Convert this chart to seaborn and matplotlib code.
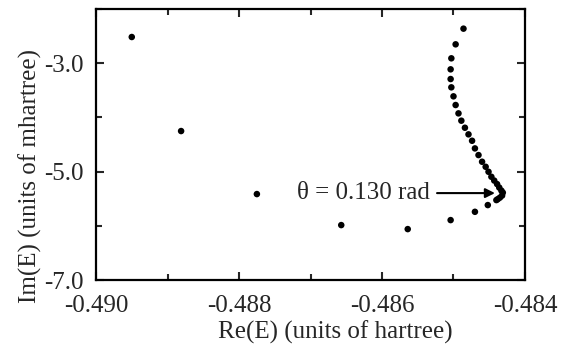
import numpy as np
import pandas as pd
import matplotlib
matplotlib.use("Agg")
import matplotlib.pyplot as plt
from matplotlib.ticker import MultipleLocator, FormatStrFormatter
import seaborn as sns

# complex-scaled resonance trajectory (Re in hartree, Im in mhartree)
re_e = [-0.48950, -0.48881, -0.48775, -0.48657, -0.48564, -0.48504,
        -0.48470, -0.48452, -0.48440, -0.48438, -0.48435, -0.48432,
        -0.48431, -0.48433, -0.48436, -0.48439, -0.48443, -0.48447,
        -0.48451, -0.48455, -0.48460, -0.48465, -0.48470, -0.48474,
        -0.48479, -0.48484, -0.48489, -0.48493, -0.48497, -0.48500,
        -0.48503, -0.48504, -0.48504, -0.48503, -0.48497, -0.48486]
im_e = [-2.517, -4.251, -5.413, -5.985, -6.059, -5.893,
        -5.740, -5.616, -5.524, -5.506, -5.478, -5.441,
        -5.386, -5.349, -5.293, -5.229, -5.164, -5.094,
        -5.002, -4.910, -4.817, -4.694, -4.571, -4.430,
        -4.312, -4.190, -4.060, -3.925, -3.771, -3.611,
        -3.445, -3.292, -3.113, -2.910, -2.652, -2.363]

theta_label = "\u03b8 = 0.130 rad"

df = pd.DataFrame({"re": re_e, "im": im_e})

sns.set_style("ticks")
plt.rcParams["font.family"] = ["Liberation Serif", "DejaVu Serif"]

fig, ax = plt.subplots(figsize=(5.75, 3.45), dpi=100)
fig.subplots_adjust(left=0.167, right=0.913, top=0.974, bottom=0.188)

sns.scatterplot(data=df, x="re", y="im", ax=ax, color="black", s=22,
                edgecolor="none", legend=False)

ax.set_xlim(-0.490, -0.484)
ax.set_ylim(-7.0, -2.0)
ax.xaxis.set_major_locator(MultipleLocator(0.002))
ax.xaxis.set_minor_locator(MultipleLocator(0.001))
ax.yaxis.set_minor_locator(MultipleLocator(1.0))
ax.set_yticks([-7.0, -5.0, -3.0])
ax.xaxis.set_major_formatter(FormatStrFormatter("%.3f"))
ax.yaxis.set_major_formatter(FormatStrFormatter("%.1f"))
ax.tick_params(which="both", direction="in", top=True, right=True,
               width=1.5, labelsize=18)
ax.tick_params(axis="x", pad=11)
ax.tick_params(axis="y", pad=9)
ax.tick_params(which="major", length=6)
ax.tick_params(which="minor", length=4)
for sp in ax.spines.values():
    sp.set_linewidth(1.6)
    sp.set_color("black")

ax.set_xlabel("Re(E) (units of hartree)", fontsize=18)
ax.set_ylabel("Im(E) (units of mhartree)", fontsize=18)
ax.xaxis.set_label_coords(0.559, -0.148)
ax.yaxis.set_label_coords(-0.125, 0.383)

ax.annotate("", xy=(-0.48442, -5.395), xytext=(-0.48523, -5.395),
            arrowprops=dict(arrowstyle="-|>", color="black", lw=1.5,
                            mutation_scale=14, shrinkA=0, shrinkB=0))
ax.text(-0.48719, -5.40, theta_label, fontsize=18, va="center", ha="left")

fig.savefig("out.png", dpi=100)
